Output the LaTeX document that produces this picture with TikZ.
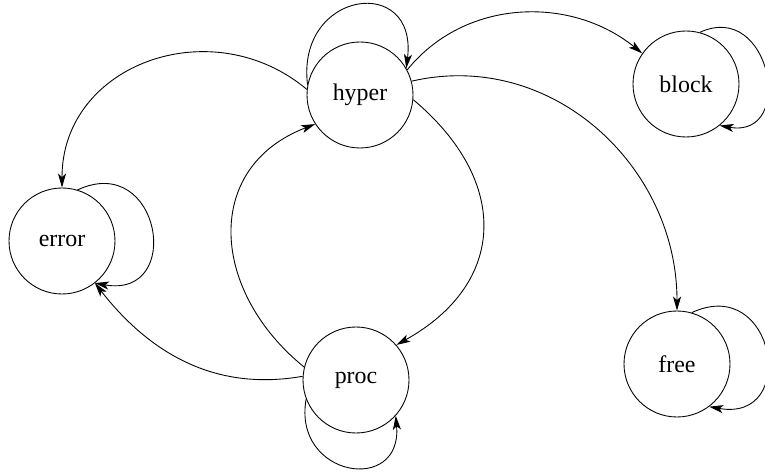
\documentclass[tikz,border=0pt]{standalone}
\usepackage{fontspec}
\setmainfont{Liberation Serif}
\usetikzlibrary{arrows.meta}
\begin{document}
\begin{tikzpicture} [
        state/.style={draw, circle, minimum size=2.12cm, inner sep=0pt},
        font=\fontsize{13.6}{16}\selectfont,
        >={Stealth[length=2.8mm,width=1.6mm,inset=0.7mm]},
        line width=0.5pt ]
    \useasboundingbox (0,0) rectangle (15.3,9.44);
    \node[state] (hyper) at (7.20,7.54) {hyper};
    \node[state] (error) at (1.24,4.62) {error};
    \node[state] (proc)  at (7.12,1.84) {proc};
    \node[state] (block) at (13.72,7.76) {block};
    \node[state] (free)  at (13.54,2.16) {free};

    \draw (hyper.174) edge[->,out=140,in=90,looseness=1.2] (error.90);
    \draw (proc.176)  edge[->,out=190,in=308,looseness=1] (error.-52);
    \draw (proc.166)  edge[->,out=141,in=201,looseness=1.27] (hyper.213);
    \draw (hyper.355) edge[->,out=-40,in=29,looseness=1.32] (proc.41);
    \draw (hyper.28)  edge[->,out=51,in=141,looseness=1] (block.145);
    \draw (hyper.15)  edge[->,out=13,in=90,looseness=1.05] (free.90);

    % self loops
    \draw (hyper.169) edge[->,out=97,in=83,looseness=2.44] (hyper.30);
    \draw (error.73)  edge[->,out=25,in=-10,looseness=2.46] (error.-52);
    \draw (block.75)  edge[->,out=25,in=-10,looseness=2.1] (block.-51);
    \draw (free.74)   edge[->,out=25,in=-10,looseness=2.46] (free.-53);
    \draw (proc.201)  edge[->,out=260,in=275,looseness=2.23] (proc.-42);
\end{tikzpicture}
\end{document}
